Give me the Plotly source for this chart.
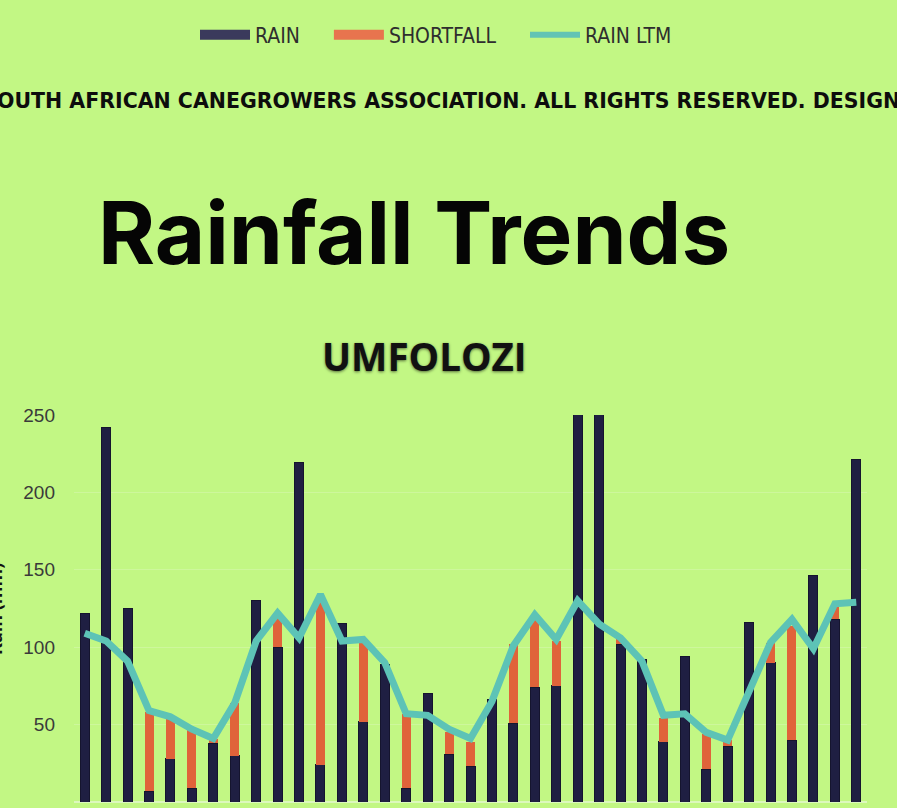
import plotly.graph_objects as go

# ───────────── DATA ─────────────
periods = [str(i) for i in range(1, 38)]

rain = [122, 242, 125, 7, 28, 9, 38, 30, 130, 100,
        219, 24, 115, 52, 89, 9, 70, 31, 23, 66,
        51, 74, 75, 290, 290, 102, 92, 39, 94, 21,
        36, 116, 90, 40, 146, 118, 221]

shortfall = [0, 0, 0, 51, 26, 38, 3, 34, 0, 21,
             0, 106, 0, 53, 0, 48, 0, 14, 16, 0,
             51, 45, 29, 0, 0, 4, 0, 15, 0, 23,
             4, 0, 13, 74, 0, 8, 0]

rain_ltm = [109, 104, 91, 59, 55, 47, 41, 64, 104, 122,
            106, 134, 104, 105, 90, 57, 56, 47, 41, 65,
            101, 121, 105, 130, 115, 106, 91, 56, 57, 45,
            40, 71, 103, 118, 99, 128, 129]

y_ticks = [0, 50, 100, 150, 200, 250]

# ───────────── LAYOUT HELPERS ─────────────
W, H = 897, 808
ML, MR, MT, MB = 74, 30, 415, 6
PW, PH = W - ML - MR, H - MT - MB

BG = "#c2f784"
NAVY = "#1f1f42"
ORANGE = "#e0633a"
TEAL = "#5dc3b6"
PAD = "\u00a0" * 4  # spacing between legend entries


def px(x):
    return (x - ML) / PW


def py(y):
    return (H - MB - y) / PH


fig = go.Figure()

fig.add_trace(go.Bar(
    x=periods, y=rain, name="RAIN", legendgroup="rain", showlegend=False,
    marker=dict(color=NAVY, line=dict(color="#15152e", width=1)),
    width=0.42,
))
fig.add_trace(go.Bar(
    x=periods, y=shortfall, name="SHORTFALL", legendgroup="short", showlegend=False,
    marker=dict(color=ORANGE, line=dict(width=0)),
    width=0.42,
))
fig.add_trace(go.Scatter(
    x=periods, y=rain_ltm, name="RAIN LTM", mode="lines", showlegend=False,
    line=dict(color=TEAL, width=7),
))

# legend-only entries with wide swatches like the original image
for name, col, lw, grp in [("RAIN" + PAD, "#3a3a5c", 10, "rain"),
                           ("SHORTFALL" + PAD, "#e8744e", 10, "short"),
                           ("RAIN LTM", "#62c4b4", 6, "ltm")]:
    fig.add_trace(go.Scatter(
        x=[None], y=[None], name=name, mode="lines", legendgroup=grp,
        line=dict(color=col, width=lw),
    ))

# ── page texts ──
fig.add_annotation(
    text="OUTH AFRICAN CANEGROWERS ASSOCIATION. ALL RIGHTS RESERVED. DESIGN",
    xref="paper", yref="paper", x=px(448), y=py(101),
    xanchor="center", yanchor="middle", showarrow=False,
    font=dict(family="DejaVu Sans", size=20.5, color="#0d0d0d", weight=700),
)
fig.add_annotation(
    text="Rainfall Trends",
    xref="paper", yref="paper", x=px(96), y=py(232),
    xanchor="left", yanchor="middle", showarrow=False,
    font=dict(family="Inter", size=87, color="#050505", weight=700),
)
fig.add_annotation(
    text="UMFOLOZI",
    xref="paper", yref="paper", x=px(424), y=py(356),
    xanchor="center", yanchor="middle", showarrow=False,
    font=dict(family="Open Sans", size=38.5, color="#111111", weight=700,
              shadow="0px 1px 3px rgba(0,0,0,0.55)"),
)
fig.add_annotation(
    text="Rain (mm)",
    xref="paper", yref="paper", x=px(9), y=py(609),
    xanchor="right", yanchor="middle", showarrow=False, textangle=-90,
    font=dict(family="Open Sans", size=18, color="#111111", weight=700),
)

fig.update_layout(
    width=W, height=H,
    margin=dict(l=ML, r=MR, t=MT, b=MB, autoexpand=False),
    paper_bgcolor=BG, plot_bgcolor=BG,
    barmode="stack",
    showlegend=True,
    legend=dict(
        orientation="h", x=px(436), y=py(35),
        xanchor="center", yanchor="middle", traceorder="normal",
        font=dict(family="DejaVu Sans Condensed", size=21, color="#2e2e2e"),
        bgcolor="rgba(0,0,0,0)", itemwidth=50,
    ),
    xaxis=dict(
        type="category", range=[-0.5, 36.5],
        showticklabels=False, showgrid=False, zeroline=False, ticks="",
    ),
    yaxis=dict(
        range=[0, 250], tickvals=y_ticks,
        tickfont=dict(family="Liberation Sans", size=19, color="#3a3a3a"),
        ticks="", ticklabelstandoff=18,
        showgrid=True, gridcolor="#cdf79c", gridwidth=1,
        zeroline=True, zerolinecolor="#dcf8bd", zerolinewidth=2,
        showline=False,
    ),
)

fig.write_html("out.html", config={"displayModeBar": False},
               post_script="document.body.style.margin='0';")
